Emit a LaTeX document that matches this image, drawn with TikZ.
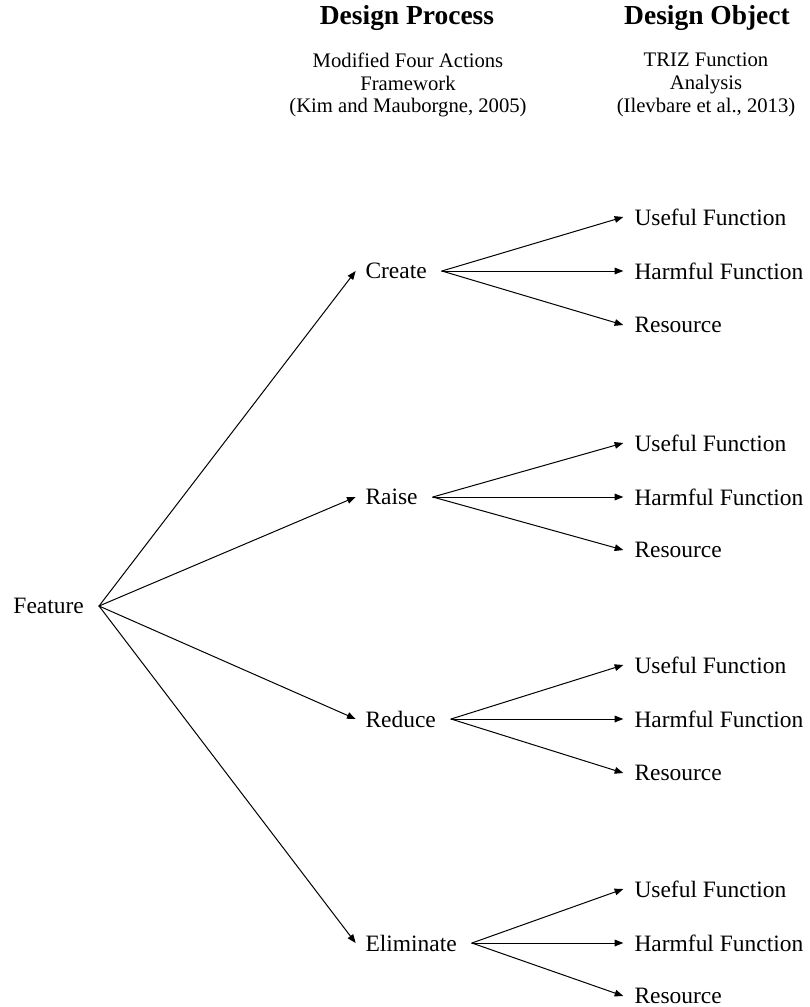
\documentclass[tikz,border=0pt]{standalone}
\usepackage{fontspec}
\setmainfont{Liberation Serif}
\usetikzlibrary{arrows.meta}
\usetikzlibrary{positioning}

\tikzset{
  lbl/.style={inner sep=0pt, anchor=west, font=\fontsize{17.6}{21}\selectfont},
  head/.style={inner sep=0pt, font=\fontsize{20.6}{24}\selectfont\bfseries},
  cite/.style={inner sep=0pt, align=center, font=\fontsize{15.5}{17}\selectfont},
}

\begin{document}
\begin{tikzpicture}[x=0.75pt,y=-0.75pt,line cap=round,line join=round,>={Triangle[length=6.5pt,width=5pt]},line width=0.75pt]
\useasboundingbox (0,0) rectangle (810,1007);
% column headings
\node[head] (hproc) at (407,18) {Design Process};
\node[head] (hobj) at (707,18) {Design Object};
\node[cite] (cproc) at (408,85) {Modified Four Actions\\Framework\\(Kim and Mauborgne, 2005)};
\node[cite] (cobj) at (706,85) {TRIZ Function\\Analysis\\(Ilevbare et al., 2013)};
% feature and actions
\node[lbl] (feat) at (13,606) {Feature};
\node[lbl] (create) at (365,271) {Create};
\node[lbl] (raise) at (365,497) {Raise};
\node[lbl] (reduce) at (365,719) {Reduce};
\node[lbl] (elim) at (365,943) {Eliminate};
\draw[->] ([xshift=11pt]feat.east) -- ([xshift=-7pt]create.west);
\draw[->] ([xshift=11pt]feat.east) -- ([xshift=-7pt]raise.west);
\draw[->] ([xshift=11pt]feat.east) -- ([xshift=-7pt]reduce.west);
\draw[->] ([xshift=11pt]feat.east) -- ([xshift=-7pt]elim.west);
% create
\node[lbl] (cuse) at (634,217) {Useful Function};
\node[lbl] (charm) at (634,271) {Harmful Function};
\node[lbl] (cres) at (634,325) {Resource};
\draw[->] ([xshift=11pt]create.east) -- ([xshift=-8pt]cuse.west);
\draw[->] ([xshift=11pt]create.east) -- ([xshift=-8pt]charm.west);
\draw[->] ([xshift=11pt]create.east) -- ([xshift=-8pt]cres.west);
% raise
\node[lbl] (ruse) at (634,443) {Useful Function};
\node[lbl] (rharm) at (634,497) {Harmful Function};
\node[lbl] (rres) at (634,550) {Resource};
\draw[->] ([xshift=11pt]raise.east) -- ([xshift=-8pt]ruse.west);
\draw[->] ([xshift=11pt]raise.east) -- ([xshift=-8pt]rharm.west);
\draw[->] ([xshift=11pt]raise.east) -- ([xshift=-8pt]rres.west);
% reduce
\node[lbl] (duse) at (634,665) {Useful Function};
\node[lbl] (dharm) at (634,719) {Harmful Function};
\node[lbl] (dres) at (634,773) {Resource};
\draw[->] ([xshift=11pt]reduce.east) -- ([xshift=-8pt]duse.west);
\draw[->] ([xshift=11pt]reduce.east) -- ([xshift=-8pt]dharm.west);
\draw[->] ([xshift=11pt]reduce.east) -- ([xshift=-8pt]dres.west);
% eliminate
\node[lbl] (euse) at (634,889) {Useful Function};
\node[lbl] (eharm) at (634,943) {Harmful Function};
\node[lbl] (eres) at (634,996) {Resource};
\draw[->] ([xshift=11pt]elim.east) -- ([xshift=-8pt]euse.west);
\draw[->] ([xshift=11pt]elim.east) -- ([xshift=-8pt]eharm.west);
\draw[->] ([xshift=11pt]elim.east) -- ([xshift=-8pt]eres.west);
\end{tikzpicture}
\end{document}
